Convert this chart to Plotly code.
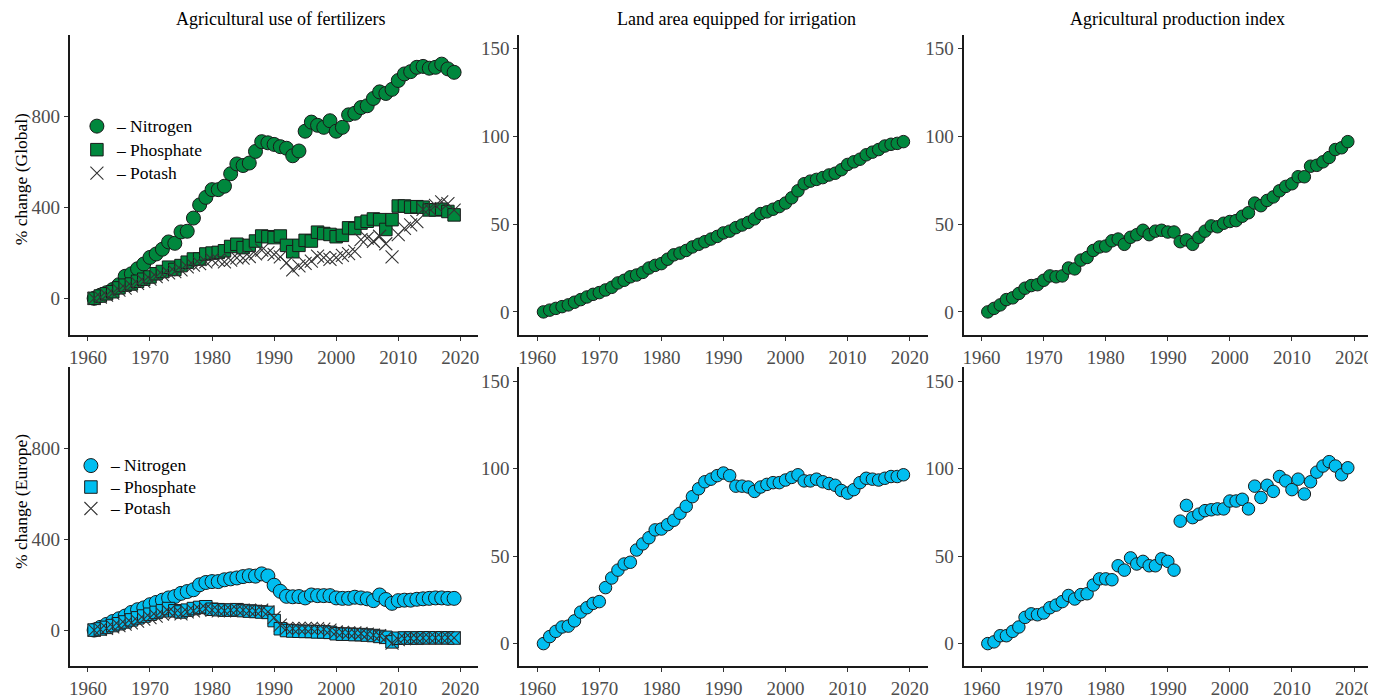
import plotly.graph_objects as go

years = list(range(1961, 2020))

# Global fertilizer use (% change)
glob_nitrogen = [0, 14, 25, 39, 60, 97, 108, 130, 151, 180, 195, 216, 248, 242, 292, 295, 353, 411, 444, 478,
                 478, 493, 548, 591, 584, 595, 646, 689, 684, 677, 667, 660, 627, 648, 735, 775, 761, 752, 781, 735,
                 752, 807, 814, 839, 847, 879, 908, 901, 919, 958, 987, 997, 1016, 1020, 1012, 1016, 1030, 1009, 994]
glob_phosphate = [0, 10, 20, 29, 46, 58, 63, 75, 84, 94, 108, 118, 137, 127, 144, 159, 173, 173, 195, 199,
                  202, 209, 228, 238, 223, 233, 252, 274, 271, 267, 274, 233, 205, 233, 255, 252, 291, 285, 281, 271,
                  277, 310, 307, 331, 339, 349, 346, 303, 346, 406, 406, 401, 403, 401, 389, 389, 392, 382, 367]
glob_potash = [0, 5, 14, 23, 36, 45, 55, 66, 75, 84, 95, 104, 112, 117, 125, 138, 146, 153, 160, 170,
               168, 160, 168, 178, 177, 184, 196, 212, 200, 193, 182, 156, 125, 143, 154, 164, 186, 179, 171, 179,
               189, 197, 207, 258, 265, 251, 273, 240, 182, 280, 308, 323, 337, 391, 395, 409, 424, 417, 388]

# Europe fertilizer use (% change)
eur_nitrogen = [0, 12, 25, 38, 50, 62, 78, 90, 98, 112, 122, 132, 142, 148, 162, 170, 178, 200, 210, 214,
                214, 222, 226, 230, 236, 240, 238, 248, 239, 198, 171, 149, 147, 148, 142, 155, 152, 152, 152, 142,
                140, 140, 145, 142, 138, 130, 155, 135, 118, 130, 132, 132, 136, 138, 140, 142, 142, 140, 140]
eur_phosphate = [0, 5, 12, 20, 28, 36, 45, 54, 62, 70, 78, 85, 95, 85, 80, 88, 95, 100, 103, 92,
                 90, 88, 88, 90, 86, 84, 82, 80, 78, 42, 6, -2, -4, -5, -6, -6, -8, -8, -10, -16,
                 -18, -18, -20, -20, -22, -24, -28, -32, -52, -36, -35, -35, -35, -34, -34, -34, -34, -34, -35]
eur_potash = [0, 3, 8, 14, 20, 26, 32, 40, 48, 55, 62, 70, 82, 75, 72, 80, 85, 90, 95, 88,
              85, 85, 88, 90, 88, 86, 84, 88, 80, 55, 22, 6, 6, 8, 8, 8, 6, 4, 0, -8,
              -10, -12, -12, -15, -18, -22, -25, -33, -58, -42, -38, -36, -36, -34, -34, -34, -34, -33, -34]

# Land area equipped for irrigation (% change)
glob_irrigation = [0, 1, 2, 3, 4, 5.5, 7, 8.5, 10, 11, 12.5, 14, 16.5, 18, 20, 21, 22.5, 25, 26.5, 27.5,
                   30, 32.5, 33.5, 35, 37, 38.5, 40, 41.5, 43, 45, 46, 48, 49.5, 51, 53, 56, 57, 58.5, 60, 62,
                   65, 69, 73, 74.5, 75.5, 76.5, 78, 79, 81, 84, 85.5, 87, 89.5, 91, 92.5, 94.5, 95.5, 96, 97]
eur_irrigation = [0, 4, 7, 9.5, 10, 13, 18, 20.5, 23, 24, 32, 37.5, 42, 45.5, 46.5, 53.5, 57, 60.5, 65, 65.5,
                  68, 70.5, 74.5, 78.5, 84, 88.5, 92.5, 94, 96, 97.5, 96, 90, 90, 89.5, 87, 89.5, 91, 92, 92, 93.5,
                  95, 96.5, 93, 93, 94, 92.5, 91.5, 90.5, 87.5, 86, 88, 92, 94.5, 94, 93.5, 94.5, 95.5, 95.5, 96.5]

# Agricultural production index (% change)
glob_production = [0, 2, 4, 7, 8, 10.5, 13.5, 15, 15.5, 18, 20.5, 20, 20.5, 25, 24.5, 29.5, 31, 35, 37, 37.5,
                    40.5, 41.5, 38.5, 42.5, 44, 46.5, 44, 46, 46.5, 45.5, 45.5, 40, 41, 38.5, 42.5, 46, 49, 48.5, 50.5, 51.5,
                    52, 54.5, 56.5, 62, 60.5, 63.5, 65.5, 69, 71.5, 73, 77, 77, 83, 83.5, 85.5, 88, 92.5, 93.5, 97]
eur_production = [0, 1, 4.5, 4.5, 7, 9.5, 15, 17, 16.5, 17.5, 20.5, 22, 24, 27.5, 25.5, 28, 28.5, 33.5, 37, 37,
                  36.5, 44.5, 42, 49, 45.5, 47, 44.5, 44.5, 48.5, 47, 42, 70, 79, 72, 74, 76, 76.5, 77, 77, 81.5,
                  81.5, 82.5, 77, 90, 83.5, 90.5, 87, 95.5, 93, 88, 94, 85.5, 92.5, 98, 101.5, 104, 101.5, 96.5, 100.5]

panel_titles = ["Agricultural use of fertilizers", "Land area equipped for irrigation", "Agricultural production index"]
row_titles = ["% change (Global)", "% change (Europe)"]
series_names = ["Nitrogen", "Phosphate", "Potash"]
x_ticks = [1960, 1970, 1980, 1990, 2000, 2010, 2020]
fert_ticks = [0, 400, 800]
pct_ticks = [0, 50, 100, 150]

GREEN = "#00873D"
BLUE = "#00BEF0"
FONT = "Liberation Serif"
OFF = 8  # page body margin
W, H = 1376 - OFF, 699 - OFF

def px_x(p):
    return (p - OFF) / W

def px_y(p):
    return 1 - (p - OFF) / H

col_dom = [[px_x(69), px_x(478)], [px_x(519), px_x(928)], [px_x(964), px_x(1373)]]
row_dom = [[px_y(340), px_y(35)], [px_y(677), px_y(373)]]

fig = go.Figure()

def legend_label(name):
    return '<span style="font-size:17.5px">– ' + name + '</span>'

def add_fert(color, n, p, k, legend_name, axis_idx):
    xa = "x" if axis_idx == 1 else f"x{axis_idx}"
    ya = "y" if axis_idx == 1 else f"y{axis_idx}"
    fig.add_trace(go.Scatter(x=years, y=n, mode="markers", name=legend_label(series_names[0]),
                             marker=dict(symbol="circle", size=14, color=color, line=dict(color="#1a1a1a", width=1)),
                             xaxis=xa, yaxis=ya, legend=legend_name))
    fig.add_trace(go.Scatter(x=years, y=p, mode="markers", name=legend_label(series_names[1]),
                             marker=dict(symbol="square", size=12.5, color=color, line=dict(color="#1a1a1a", width=1)),
                             xaxis=xa, yaxis=ya, legend=legend_name))
    fig.add_trace(go.Scatter(x=years, y=k, mode="markers", name=legend_label(series_names[2]),
                             marker=dict(symbol="x-thin-open", size=13, color="#333333", line=dict(color="#333333", width=1.1)),
                             xaxis=xa, yaxis=ya, legend=legend_name))

def add_single(vals, color, axis_idx):
    fig.add_trace(go.Scatter(x=years, y=vals, mode="markers", showlegend=False,
                             marker=dict(symbol="circle", size=12.5, color=color, line=dict(color="#1a1a1a", width=1)),
                             xaxis=f"x{axis_idx}", yaxis=f"y{axis_idx}"))

add_fert(GREEN, glob_nitrogen, glob_phosphate, glob_potash, "legend", 1)
add_single(glob_irrigation, GREEN, 2)
add_single(glob_production, GREEN, 3)
add_fert(BLUE, eur_nitrogen, eur_phosphate, eur_potash, "legend2", 4)
add_single(eur_irrigation, BLUE, 5)
add_single(eur_production, BLUE, 6)

axis_common = dict(showline=True, linecolor="#1a1a1a", linewidth=2, showgrid=False, zeroline=False,
                   ticks="outside", ticklen=4, tickwidth=1.2, tickcolor="#333333",
                   tickfont=dict(family=FONT, size=19, color="#4D4D4D"), mirror=False)

layout = dict(width=W, height=H, margin=dict(l=0, r=0, t=0, b=0),
              paper_bgcolor="white", plot_bgcolor="white",
              font=dict(family=FONT, size=17, color="black"))

for i in range(6):
    r, c = divmod(i, 3)
    idx = i + 1
    xkey = "xaxis" if idx == 1 else f"xaxis{idx}"
    ykey = "yaxis" if idx == 1 else f"yaxis{idx}"
    anchor_x = "y" if idx == 1 else f"y{idx}"
    anchor_y = "x" if idx == 1 else f"x{idx}"
    layout[xkey] = dict(axis_common, domain=col_dom[c], anchor=anchor_x, range=[1957.1, 2022.9],
                        tickmode="array", tickvals=x_ticks)
    if c == 0:
        yr = [-160, 1160]
        tv = fert_ticks
    else:
        yr = [-13, 158]
        tv = pct_ticks
    layout[ykey] = dict(axis_common, domain=row_dom[r], anchor=anchor_y, range=yr,
                        tickmode="array", tickvals=tv)

fig.update_layout(**layout)

# Panel titles
title_x = [280, 737, 1178]
annotations = []
for t, xp in zip(panel_titles, title_x):
    annotations.append(dict(text=t, x=px_x(xp), y=px_y(19), xref="paper", yref="paper",
                            showarrow=False, xanchor="center", yanchor="middle",
                            font=dict(family=FONT, size=18, color="black")))
for t, yp in zip(row_titles, [182, 509]):
    annotations.append(dict(text=t, x=px_x(20), y=px_y(yp), xref="paper", yref="paper",
                            showarrow=False, xanchor="center", yanchor="middle", textangle=-90,
                            font=dict(family=FONT, size=17.5, color="black")))
fig.update_layout(annotations=annotations)

legend_common = dict(bgcolor="rgba(0,0,0,0)", borderwidth=0, xanchor="left", yanchor="top",
                     itemsizing="trace", tracegroupgap=0)
fig.update_layout(
    legend=dict(legend_common, x=px_x(76), y=px_y(111),
                font=dict(family=FONT, size=15.8, color="black")),
    legend2=dict(legend_common, x=px_x(70), y=px_y(457),
                 font=dict(family=FONT, size=14.2, color="black")),
)

fig.write_html("out.html", post_script="document.body.style.overflow='hidden';")
